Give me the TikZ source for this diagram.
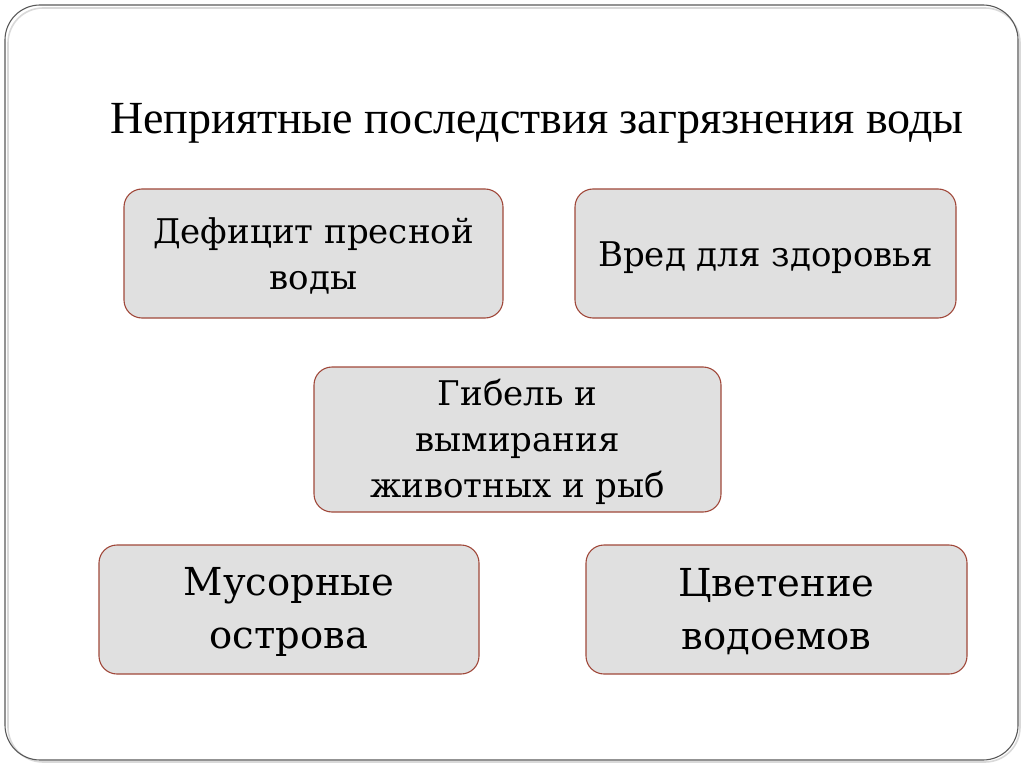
\documentclass[tikz,border=0pt]{standalone}
\usepackage{fontspec}
\setmainfont{Liberation Serif}
\newfontfamily\boxfont{DejaVu Serif}
\definecolor{bord}{HTML}{A0483A}
\definecolor{boxfill}{HTML}{E0E0E0}
\begin{document}
\begin{tikzpicture}[x=1pt,y=-1pt,
  cbox/.style={draw=bord,line width=1.1pt,fill=boxfill,rounded corners=18pt},
  ctext/.style={align=center,font=\boxfont\fontsize{34}{46}\selectfont},
  btext/.style={align=center,font=\boxfont\fontsize{38.5}{53}\selectfont}]
\useasboundingbox (0,0) rectangle (1024,767);
\draw[line width=1.6pt,draw=gray,rounded corners=35pt,xshift=2pt,yshift=-2pt,opacity=0.3] (6,6) rectangle (1018,760);
\draw[line width=1.1pt,draw=gray!70!black,rounded corners=35pt] (5,5) rectangle (1018,760);
\node[font=\fontsize{46}{50}\selectfont] (title) at (537,123) {Неприятные последствия загрязнения воды};
\draw[cbox] (124,189) rectangle (503,318);
\node[ctext] (a) at (313.5,256) {Дефицит пресной\\воды};
\draw[cbox] (575,189) rectangle (956,318);
\node[ctext] (b) at (765.5,258) {Вред для здоровья};
\draw[cbox] (314,367) rectangle (721,512);
\node[ctext] (c) at (517.5,442) {Гибель и\\вымирания\\животных и рыб};
\draw[cbox] (99,545) rectangle (479,674);
\node[btext] (d) at (289,612) {Мусорные\\острова};
\draw[cbox] (586,545) rectangle (967,674);
\node[btext] (e) at (776.5,612) {Цветение\\водоемов};
\end{tikzpicture}
\end{document}
